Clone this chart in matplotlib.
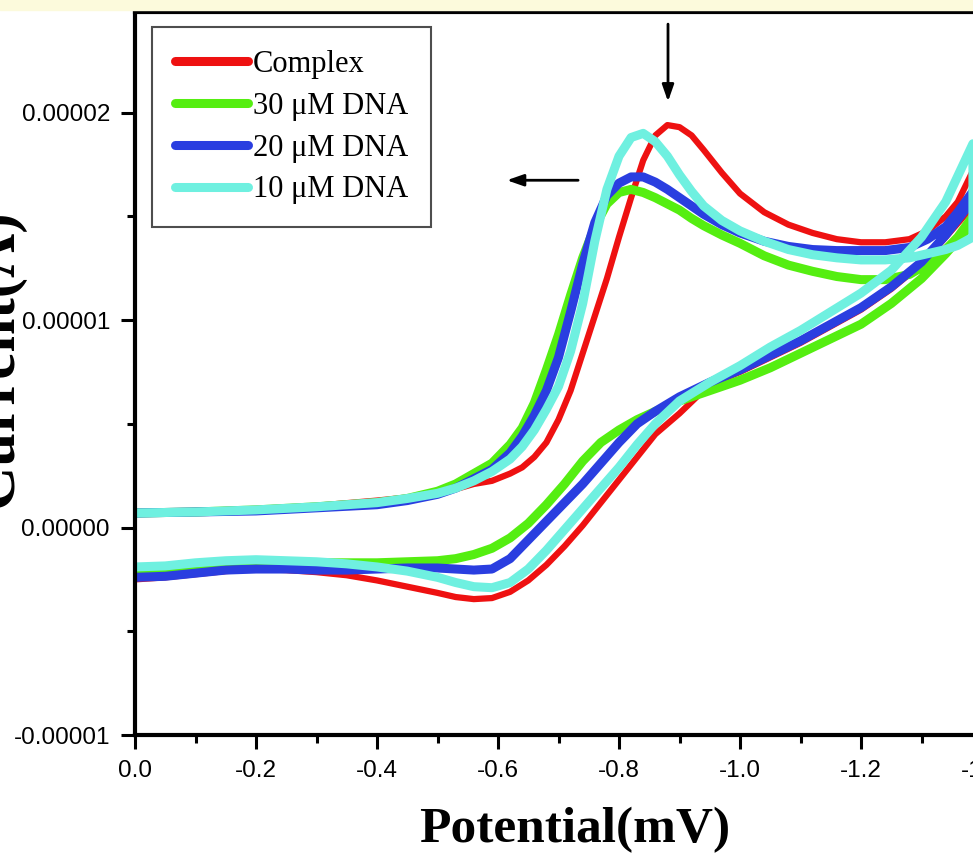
import matplotlib
matplotlib.use("Agg")
import matplotlib.pyplot as plt
from matplotlib.patches import Rectangle
from matplotlib.ticker import FixedLocator, FuncFormatter
import numpy as np

# potentials (V), forward (upper) branch
E_fwd = [0.0, -0.1, -0.2, -0.3, -0.4, -0.45, -0.5, -0.53, -0.56, -0.59, -0.62, -0.64,
         -0.66, -0.68, -0.70, -0.72, -0.74, -0.76, -0.78, -0.80, -0.82, -0.84, -0.86,
         -0.88, -0.90, -0.92, -0.94, -0.97, -1.0, -1.04, -1.08, -1.12, -1.16, -1.2,
         -1.24, -1.28, -1.31, -1.34, -1.36, -1.385]
# potentials (V), reverse (lower) branch
E_rev = [0.0, -0.05, -0.1, -0.15, -0.2, -0.25, -0.3, -0.35, -0.4, -0.45, -0.5, -0.53,
         -0.56, -0.59, -0.62, -0.65, -0.68, -0.71, -0.74, -0.77, -0.80, -0.83, -0.86,
         -0.90, -0.95, -1.0, -1.05, -1.1, -1.15, -1.2, -1.25, -1.3, -1.34, -1.385]

# currents, units of 1e-5 A
complex_fwd = [0.07, 0.08, 0.09, 0.105, 0.13, 0.145, 0.165, 0.185, 0.21, 0.225, 0.26, 0.29,
               0.34, 0.41, 0.52, 0.66, 0.84, 1.02, 1.20, 1.40, 1.59, 1.77, 1.89,
               1.94, 1.93, 1.89, 1.82, 1.71, 1.61, 1.52, 1.46, 1.42, 1.39, 1.375,
               1.375, 1.39, 1.43, 1.50, 1.57, 1.72]
complex_rev = [-0.25, -0.24, -0.225, -0.21, -0.20, -0.205, -0.215, -0.23, -0.255, -0.285, -0.315, -0.335,
               -0.345, -0.34, -0.31, -0.255, -0.18, -0.09, 0.01, 0.12, 0.23, 0.34, 0.45,
               0.55, 0.69, 0.75, 0.82, 0.89, 0.97, 1.05, 1.15, 1.27, 1.40, 1.55]

dna30_fwd = [0.07, 0.075, 0.085, 0.10, 0.12, 0.14, 0.175, 0.21, 0.26, 0.31, 0.40, 0.48,
             0.60, 0.76, 0.93, 1.12, 1.30, 1.45, 1.56, 1.615, 1.63, 1.615, 1.59,
             1.56, 1.53, 1.49, 1.455, 1.41, 1.37, 1.31, 1.265, 1.235, 1.21, 1.195,
             1.195, 1.22, 1.27, 1.34, 1.40, 1.50]
dna30_rev = [-0.20, -0.195, -0.185, -0.175, -0.17, -0.17, -0.17, -0.17, -0.17, -0.165, -0.16, -0.15,
             -0.13, -0.10, -0.05, 0.02, 0.11, 0.21, 0.32, 0.41, 0.47, 0.52, 0.56,
             0.61, 0.66, 0.71, 0.77, 0.84, 0.91, 0.98, 1.08, 1.20, 1.32, 1.47]

dna20_fwd = [0.07, 0.075, 0.08, 0.095, 0.11, 0.13, 0.16, 0.19, 0.235, 0.28, 0.36, 0.44,
             0.54, 0.66, 0.82, 1.04, 1.27, 1.47, 1.60, 1.66, 1.69, 1.69, 1.665,
             1.63, 1.59, 1.55, 1.51, 1.46, 1.42, 1.38, 1.355, 1.34, 1.335, 1.335,
             1.335, 1.35, 1.39, 1.45, 1.52, 1.62]
dna20_rev = [-0.24, -0.235, -0.22, -0.205, -0.20, -0.20, -0.205, -0.205, -0.20, -0.195, -0.195, -0.20,
             -0.205, -0.20, -0.15, -0.06, 0.03, 0.12, 0.21, 0.31, 0.41, 0.50, 0.56,
             0.63, 0.70, 0.76, 0.83, 0.90, 0.98, 1.06, 1.16, 1.28, 1.41, 1.58]

dna10_fwd = [0.07, 0.075, 0.085, 0.10, 0.12, 0.14, 0.165, 0.19, 0.225, 0.27, 0.33, 0.39,
             0.47, 0.57, 0.68, 0.85, 1.08, 1.38, 1.63, 1.79, 1.88, 1.90, 1.86,
             1.79, 1.70, 1.62, 1.55, 1.48, 1.43, 1.38, 1.34, 1.315, 1.30, 1.29,
             1.29, 1.30, 1.32, 1.34, 1.36, 1.40]
dna10_rev = [-0.19, -0.185, -0.17, -0.16, -0.155, -0.16, -0.165, -0.175, -0.19, -0.21, -0.24, -0.265,
             -0.285, -0.29, -0.265, -0.20, -0.11, -0.01, 0.09, 0.19, 0.29, 0.40, 0.50,
             0.61, 0.70, 0.78, 0.87, 0.95, 1.04, 1.13, 1.24, 1.40, 1.57, 1.85]

labels = ["Complex", "30 \u03bcM DNA", "20 \u03bcM DNA", "10 \u03bcM DNA"]
colors = ["#ee1111", "#55ee11", "#2a3ee0", "#6ff0e0"]
widths = [4.5, 6.5, 6.5, 6.5]
series = [(complex_fwd, complex_rev), (dna30_fwd, dna30_rev),
          (dna20_fwd, dna20_rev), (dna10_fwd, dna10_rev)]

fig = plt.figure(figsize=(9.73, 8.63), dpi=100)
# pale yellow strip at the top of the original image
fig.patches.append(Rectangle((0, 1 - 10 / 863), 1, 10 / 863, transform=fig.transFigure,
                             color="#fcfadc", zorder=0))

ax = fig.add_axes([135 / 973, 128 / 863, 907.5 / 973, 723 / 863])

for (fwd, rev), lab, c, lw in zip(series, labels, colors, widths):
    x = np.concatenate([E_fwd, E_rev[::-1]])
    y = np.concatenate([fwd, rev[::-1]]) * 1e-5
    ax.plot(x, y, color=c, lw=lw, label=lab, solid_capstyle="round", solid_joinstyle="round")

ax.set_xlim(0, -1.5)
ax.set_ylim(-1e-5, 2.485e-5)

ax.xaxis.set_major_locator(FixedLocator([0, -0.2, -0.4, -0.6, -0.8, -1.0, -1.2, -1.4]))
ax.xaxis.set_minor_locator(FixedLocator([-0.1, -0.3, -0.5, -0.7, -0.9, -1.1, -1.3]))
ax.xaxis.set_major_formatter(FuncFormatter(lambda v, p: f"{v:.1f}"))
ax.yaxis.set_major_locator(FixedLocator([-1e-5, 0, 1e-5, 2e-5]))
ax.yaxis.set_minor_locator(FixedLocator([-0.5e-5, 0.5e-5, 1.5e-5]))
ax.yaxis.set_major_formatter(FuncFormatter(lambda v, p: f"{v:.5f}"))

for s in ["left", "bottom", "top"]:
    ax.spines[s].set_linewidth(3)
ax.spines["right"].set_visible(False)
ax.tick_params(which="major", direction="out", length=10, width=2.2, pad=8,
               labelsize=17.5, labelfontfamily="Liberation Sans")
ax.tick_params(which="minor", direction="out", length=6, width=2.2)

fig.text(575 / 973, 21 / 863, "Potential(mV)", ha="center", va="baseline",
         fontsize=37, fontweight="bold", family="Liberation Serif")
fig.text(0.026, 0.585, "Current(A)", rotation=90, ha="right", va="center",
         fontsize=44, fontweight="bold", family="Liberation Serif")

leg = ax.legend(loc="upper left", bbox_to_anchor=(17 / 907.5, 1 - 15 / 723),
                borderaxespad=0, fancybox=False, edgecolor="#222222",
                prop={"family": "Liberation Serif", "size": 22},
                handlelength=2.4, handletextpad=0.15, labelspacing=0.42,
                borderpad=0.75)
leg.get_frame().set_linewidth(1.5)
for h in leg.get_lines():
    h.set_linewidth(6.5)
    h.set_solid_capstyle("round")

# arrows marking the peak shift
ax.annotate("", xy=(-0.881, 2.04e-5), xytext=(-0.881, 2.44e-5),
            arrowprops=dict(arrowstyle="-|>,head_length=1.0,head_width=0.35",
                            color="black", lw=2))
ax.annotate("", xy=(-0.61, 1.674e-5), xytext=(-0.737, 1.674e-5),
            arrowprops=dict(arrowstyle="-|>,head_length=1.0,head_width=0.35",
                            color="black", lw=2))

fig.savefig("out.png", dpi=100)
